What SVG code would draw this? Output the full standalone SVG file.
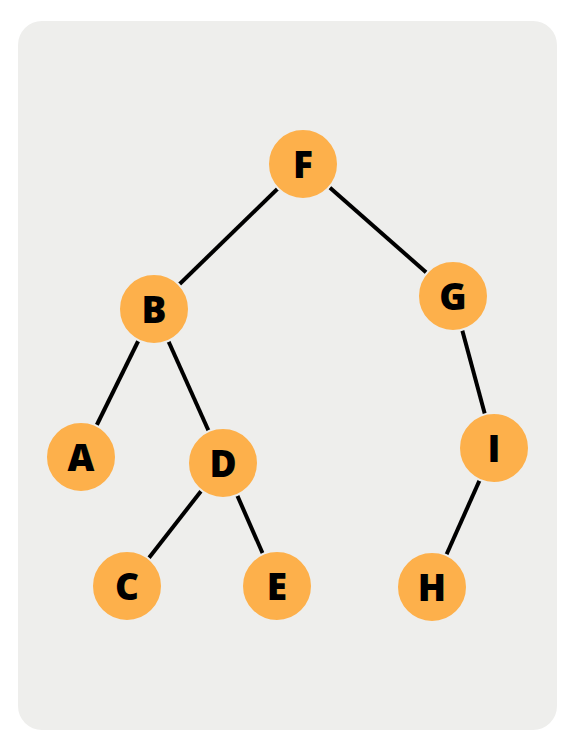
<svg xmlns="http://www.w3.org/2000/svg" width="575" height="751" viewBox="0 0 575 751">
<style>
.edge{stroke:#000;stroke-width:4;fill:none}
.node circle{fill:#fdb04b;stroke:#eeeeec;stroke-width:2}
.node text{font-family:"Open Sans","DejaVu Sans",sans-serif;font-weight:800;font-size:37px;fill:#000;text-anchor:middle}
</style>
<rect x="18" y="21" width="539" height="709" rx="24" fill="#eeeeec"/>
<g id="connectors">
<line class="edge" x1="303" y1="164" x2="154" y2="309"/>
<line class="edge" x1="303" y1="164" x2="453" y2="296"/>
<line class="edge" x1="154" y1="309" x2="81" y2="457"/>
<line class="edge" x1="154" y1="309" x2="223" y2="463"/>
<line class="edge" x1="223" y1="463" x2="127" y2="586"/>
<line class="edge" x1="223" y1="463" x2="277" y2="586"/>
<line class="edge" x1="453" y1="296" x2="494" y2="448"/>
<line class="edge" x1="494" y1="448" x2="432" y2="587"/>
</g>
<g id="node-F" class="node"><circle cx="303" cy="164" r="35"/><text x="303" y="177.5">F</text></g>
<g id="node-B" class="node"><circle cx="154" cy="309" r="35"/><text x="154" y="322.5">B</text></g>
<g id="node-G" class="node"><circle cx="453" cy="296" r="35"/><text x="453" y="309.5">G</text></g>
<g id="node-A" class="node"><circle cx="81" cy="457" r="35"/><text x="81" y="470.5">A</text></g>
<g id="node-D" class="node"><circle cx="223" cy="463" r="35"/><text x="223" y="476.5">D</text></g>
<g id="node-I" class="node"><circle cx="494" cy="448" r="35"/><text x="494" y="461.5">I</text></g>
<g id="node-C" class="node"><circle cx="127" cy="586" r="35"/><text x="127" y="599.5">C</text></g>
<g id="node-E" class="node"><circle cx="277" cy="586" r="35"/><text x="277" y="599.5">E</text></g>
<g id="node-H" class="node"><circle cx="432" cy="587" r="35"/><text x="432" y="600.5">H</text></g>
</svg>
